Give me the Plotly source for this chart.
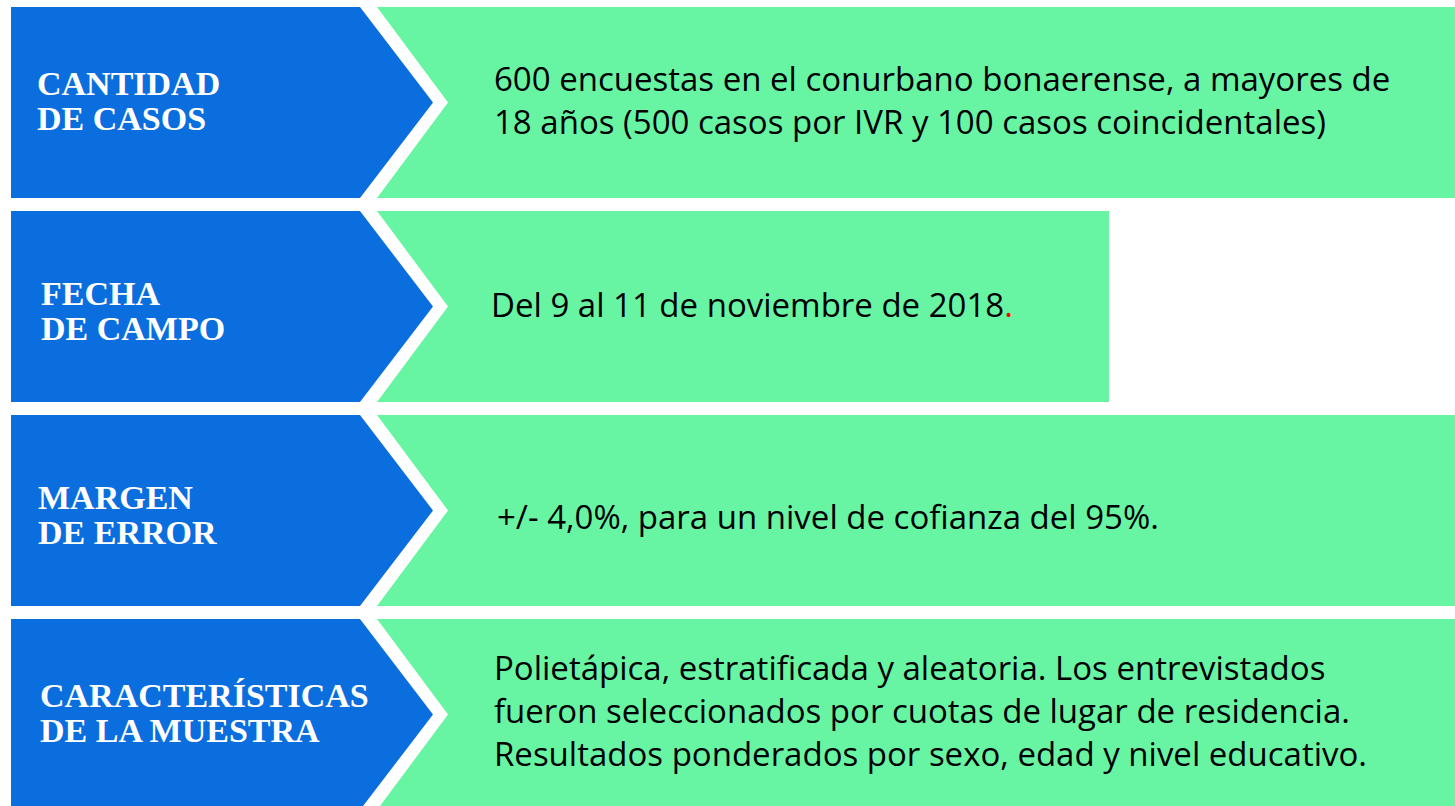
import plotly.graph_objects as go

# contenido de la ficha técnica
labels = [
    ["CANTIDAD", "DE CASOS"],
    ["FECHA", "DE CAMPO"],
    ["MARGEN", "DE ERROR"],
    ["CARACTERÍSTICAS", "DE LA MUESTRA"],
]
details = [
    "600 encuestas en el conurbano bonaerense, a mayores de<br>18 años (500 casos por IVR y 100 casos coincidentales)",
    "Del 9 al 11 de noviembre de 2018<span style='color:#ff0000'>.</span>",
    "+/- 4,0%, para un nivel de cofianza del 95%.",
    "Polietápica, estratificada y aleatoria. Los entrevistados<br>"
    "fueron seleccionados por cuotas de lugar de residencia.<br>"
    "Resultados ponderados por sexo, edad y nivel educativo.",
]
# hasta dónde llega el recuadro verde de cada fila
box_end = [1455, 1109, 1455, 1455]

BLUE = "#0A6EDE"
GREEN = "#68F5A3"
W, H = 1455, 806

# geometría de las filas (px)
top0, step, row_h = 7, 204, 191
blue_x0, blue_x1, blue_tip = 11, 360, 433
green_x0, green_tip = 377, 448
label_x = [35, 39, 36, 38]
label_dy = [-2, 4, 4, -2]
detail_x = [492, 489, 495, 492]
detail_dy = [-3, -2, 6, -4]
line_gap = 35

fig = go.Figure()
shapes = []
annotations = []
for i, (lines, text) in enumerate(zip(labels, details)):
    y0 = top0 + step * i
    y1 = y0 + row_h
    ym = (y0 + y1) / 2
    shapes.append(dict(
        type="path", layer="below", line=dict(width=0), fillcolor=BLUE,
        path=f"M {blue_x0},{y0} L {blue_x1},{y0} L {blue_tip},{ym} L {blue_x1},{y1} L {blue_x0},{y1} Z",
    ))
    shapes.append(dict(
        type="path", layer="below", line=dict(width=0), fillcolor=GREEN,
        path=f"M {green_x0},{y0} L {box_end[i]},{y0} L {box_end[i]},{y1} L {green_x0},{y1} L {green_tip},{ym} Z",
    ))
    n = len(lines)
    for k, ln in enumerate(lines):
        ly = ym + label_dy[i] + (k - (n - 1) / 2) * line_gap
        annotations.append(dict(
            x=label_x[i], y=ly, xref="x", yref="y", text=ln, showarrow=False,
            xanchor="left", yanchor="middle",
            font=dict(family="Liberation Serif, Times New Roman, serif", size=34,
                      color="white", weight="bold"),
        ))
    annotations.append(dict(
        x=detail_x[i], y=ym + detail_dy[i], xref="x", yref="y", text=text, showarrow=False,
        xanchor="left", yanchor="middle", align="left",
        font=dict(family="Open Sans, Noto Sans, sans-serif", size=33, color="black"),
    ))

fig.update_layout(
    width=W, height=H,
    margin=dict(l=0, r=0, t=0, b=0),
    paper_bgcolor="white", plot_bgcolor="white",
    xaxis=dict(range=[0, W], visible=False, fixedrange=True),
    yaxis=dict(range=[H, 0], visible=False, fixedrange=True),
    shapes=shapes, annotations=annotations, showlegend=False,
)
# sin el margen por defecto del body, la figura ocupa toda la ventana
fig.write_html("out.html", config={"displayModeBar": False},
               post_script="document.body.style.margin = '0';")
